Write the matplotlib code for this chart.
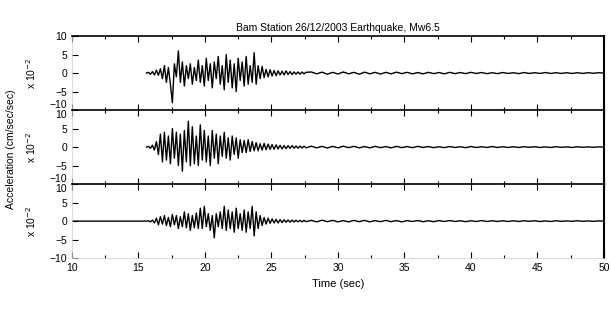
import numpy as np
import matplotlib
matplotlib.use("Agg")
import matplotlib.pyplot as plt
from matplotlib.ticker import MultipleLocator

plt.rcParams['font.family'] = ['Liberation Sans', 'DejaVu Sans']
plt.rcParams['font.size'] = 7

title = "Bam Station 26/12/2003 Earthquake, Mw6.5"
scale_labels = ["x 10$^{-2}$", "x 10$^{-2}$", "x 10$^{-2}$"]

# strong-motion part: samples every dt seconds starting at t0
strong_t0 = 15.6
strong_dt = 0.15
# tail part
tail_t0 = 28.0
tail_dt = 0.4

top_strong = [0.0, 0.2, -0.3, 0.4, -0.5, 0.8, -0.6, 1.2, -1.5, 2.0, -2.5, 1.5, -3.0, -8.0,
              2.5, -1.0, 6.0, -2.5, 3.0, -3.5, 2.0, -1.5, 2.5, -3.0, 1.5, -2.0, 3.5, -2.5,
              2.0, -3.5, 4.0, -2.0, 2.5, -4.0, 3.0, -1.5, 4.5, -3.0, 2.0, -4.5, 5.0, -2.5,
              3.5, -4.0, 2.5, -5.0, 4.0, -2.0, 3.0, -3.5, 4.5, -3.0, 2.0, -2.5, 5.5, -3.0,
              2.0, -1.5, 1.8, -1.2, 1.0, -1.0, 0.9, -0.8, 0.7, -0.7, 0.6, -0.5, 0.5, -0.5,
              0.6, -0.4, 0.4, -0.4, 0.3, -0.3, 0.3, -0.3, 0.3, -0.2, 0.2]
top_tail = [0.3, -0.2, 0.25, -0.3, 0.2, -0.25, 0.3, -0.2, 0.2, -0.3, 0.25, -0.2, 0.2, -0.25,
            0.2, -0.2, 0.25, -0.15, 0.2, -0.2, 0.15, -0.2, 0.2, -0.15, 0.15, -0.2, 0.2, -0.15,
            0.15, -0.15, 0.2, -0.1, 0.15, -0.15, 0.1, -0.15, 0.15, -0.1, 0.1, -0.15, 0.15, -0.1,
            0.1, -0.1, 0.15, -0.1, 0.1, -0.1, 0.1, -0.1, 0.1, -0.1, 0.1, -0.05, 0.1, 0.0]

mid_strong = [0.0, 0.2, -0.3, 0.5, -0.8, 1.5, -2.0, 3.5, -4.0, 4.0, -3.5, 3.0, -4.5, 5.0,
              -3.0, 4.0, -5.0, 3.5, -6.5, 4.5, -4.0, 7.0, -5.0, 5.5, -4.5, 3.0, -5.0, 6.0,
              -3.5, 4.5, -4.0, 3.0, -5.0, 4.5, -3.0, 3.5, -4.5, 3.0, -2.5, 4.0, -3.0, 2.5,
              -3.5, 3.0, -2.0, 2.5, -3.0, 2.0, -1.5, 1.8, -1.5, 2.0, -1.2, 1.5, -1.0, 1.2,
              -1.0, 0.9, -0.8, 1.0, -0.7, 0.8, -0.6, 0.7, -0.6, 0.6, -0.5, 0.5, -0.5, 0.4,
              -0.4, 0.4, -0.35, 0.4, -0.3, 0.3, -0.3, 0.3, -0.25, 0.25, -0.2]
mid_tail = [0.25, -0.2, 0.2, -0.25, 0.2, -0.2, 0.25, -0.15, 0.2, -0.2, 0.15, -0.2, 0.2, -0.15,
            0.15, -0.2, 0.2, -0.15, 0.15, -0.15, 0.2, -0.1, 0.15, -0.15, 0.1, -0.15, 0.15, -0.1,
            0.1, -0.15, 0.15, -0.1, 0.1, -0.1, 0.15, -0.1, 0.1, -0.1, 0.1, -0.1, 0.1, -0.05,
            0.1, -0.1, 0.05, -0.1, 0.1, -0.05, 0.05, -0.1, 0.1, -0.05, 0.05, -0.05, 0.05, 0.0]

bot_pre_t = [10.0, 15.6]
bot_pre = [0.0, 0.0]
bot_strong = [0.0, 0.1, -0.2, 0.3, -0.5, 0.8, -1.0, 1.2, -0.8, 1.5, -1.2, 1.0, -1.5, 1.8,
              -1.0, 1.5, -2.0, 1.2, -1.5, 2.5, -1.8, 2.0, -2.5, 1.5, -1.8, 2.2, -2.0, 3.5,
              -2.0, 4.0, -1.5, 2.0, -2.5, 1.5, -4.5, 2.0, -1.5, 2.5, -2.0, 4.0, -2.5, 3.0,
              -2.0, 2.5, -3.0, 3.5, -2.0, 2.0, -2.5, 3.0, -3.0, 2.5, -2.0, 4.0, -4.0, 2.5,
              -2.0, 1.5, -1.2, 1.0, -0.8, 0.8, -0.6, 0.6, -0.5, 0.5, -0.5, 0.4, -0.4, 0.35,
              -0.3, 0.3, -0.3, 0.3, -0.25, 0.25, -0.2, 0.2, -0.2, 0.2, -0.15]
bot_tail = [0.2, -0.2, 0.25, -0.15, 0.2, -0.2, 0.15, -0.2, 0.2, -0.15, 0.2, -0.2, 0.15, -0.15,
            0.2, -0.15, 0.15, -0.2, 0.15, -0.1, 0.15, -0.15, 0.1, -0.15, 0.15, -0.1, 0.15, -0.1,
            0.1, -0.15, 0.1, -0.1, 0.15, -0.1, 0.1, -0.1, 0.1, -0.1, 0.1, -0.1, 0.1, -0.05,
            0.1, -0.1, 0.05, -0.1, 0.1, -0.05, 0.05, -0.05, 0.1, -0.05, 0.05, -0.05, 0.05, 0.0]


def record(strong, tail, pre_t=None, pre=None):
    t = list(strong_t0 + strong_dt * np.arange(len(strong)))
    t += list(tail_t0 + tail_dt * np.arange(len(tail)))
    y = list(strong) + list(tail)
    if pre_t is not None:
        t = list(pre_t) + t
        y = list(pre) + y
    return np.array(t), np.array(y)


traces = [record(top_strong, top_tail),
          record(mid_strong, mid_tail),
          record(bot_strong, bot_tail, bot_pre_t, bot_pre)]

fig = plt.figure(figsize=(6.1, 3.11), dpi=100)
fig.subplots_adjust(left=0.118, right=0.990, top=0.884, bottom=0.170, hspace=0.0)
axes = fig.subplots(3, 1, sharex=True)

for i, (ax, (t, y), lab) in enumerate(zip(axes, traces, scale_labels)):
    ax.plot(t, y, color='black', lw=1.0)
    ax.set_xlim(10, 50)
    ax.set_ylim(-10, 10)
    ax.set_yticks([-10, -5, 0, 5, 10])
    ax.xaxis.set_major_locator(MultipleLocator(5))
    ax.xaxis.set_minor_locator(MultipleLocator(2.5))
    ax.tick_params(direction='in', which='both', top=True, right=False,
                   labelsize=7.5, length=4, width=0.8)
    ax.tick_params(which='minor', length=2)
    ax.set_ylabel(lab, fontsize=7.5, labelpad=8)
    for side in ['left', 'bottom']:
        ax.spines[side].set_color('#cccccc')
        ax.spines[side].set_linewidth(0.5)
    ax.spines['top'].set_linewidth(1.2)
    ax.spines['right'].set_linewidth(1.5)
    # keep the stacked -10 / 10 labels from sitting on top of each other
    fig.canvas.draw()
    labels = ax.get_yticklabels()
    if i < 2:
        labels[0].set_va('bottom')
    if i > 0:
        labels[-1].set_va('top')

axes[1].spines['bottom'].set_color('black')
axes[1].spines['bottom'].set_linewidth(0.8)

axes[0].set_title(title, fontsize=7.5, pad=4)
axes[2].set_xlabel("Time (sec)", fontsize=8)
fig.text(0.018, 0.52, "Acceleration (cm/sec/sec)", rotation=90,
         va='center', ha='center', fontsize=7.5)

fig.savefig("out.png", dpi=100)
